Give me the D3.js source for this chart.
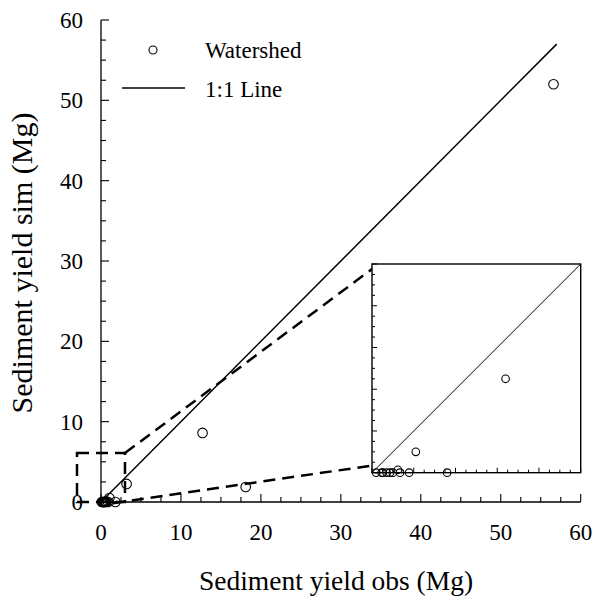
<!DOCTYPE html>
<html><head><meta charset="utf-8">
<script src="https://cdn.jsdelivr.net/npm/d3@7"></script>
<style>body{margin:0;background:#fff}svg{display:block}
svg text{font-family:"Liberation Serif","Noto Serif","Nimbus Roman","FreeSerif","DejaVu Serif",serif}</style>
</head><body>
<svg id="c" width="595" height="603"></svg>
<script>
// data
const obs = [56.6, 12.7, 18.1, 3.2, 1.05, 1.8, 0.10, 0.23, 0.26, 0.35, 0.43, 0.50, 0.62, 0.67, 0.89];
const sim = [52.0, 8.6, 1.87, 2.25, 0.50, 0.0, 0.0, 0.0, 0.0, 0.0, 0.0, 0.0, 0.07, 0.0, 0.0];
const oneToOne = [0, 57];
const mainTicks = [0, 10, 20, 30, 40, 50, 60];
const insetTicks = [0, 1, 2, 3, 4, 5];
const zoomBox = {x0: -3, x1: 3.0, y0: 0, y1: 6.1};
const connectors = [[[3.0, 6.1], [34.3, 29.3]], [[1.5, -0.15], [34.3, 4.6]]];
const legendLabels = ["Watershed", "1:1 Line"];
const xTitle = "Sediment yield obs (Mg)";
const yTitle = "Sediment yield sim (Mg)";

const svg = d3.select("#c");
const x = d3.scaleLinear().domain([0, 60]).range([101, 580.7]);
const y = d3.scaleLinear().domain([0, 60]).range([502, 20]);
const pts = obs.map((o, i) => [o, sim[i]]);

// axes
const minor = d3.range(0, 60.01, 2.5);
const gx = svg.append("g").attr("transform", "translate(0,502)");
gx.append("line").attr("x1", x(0)).attr("x2", x(60)).attr("stroke", "#000").attr("stroke-width", 1.3);
gx.selectAll("line.t").data(minor).join("line").attr("class", "t")
  .attr("x1", d => x(d)).attr("x2", d => x(d)).attr("y1", 0)
  .attr("y2", d => mainTicks.includes(d) ? -8 : -5).attr("stroke", "#000").attr("stroke-width", 1.1);
gx.selectAll("text").data(mainTicks).join("text").attr("x", d => x(d)).attr("y", 38)
  .attr("text-anchor", "middle").attr("font-size", 23).text(d => d);

const gy = svg.append("g").attr("transform", "translate(101,0)");
gy.append("line").attr("y1", y(0)).attr("y2", y(60)).attr("stroke", "#000").attr("stroke-width", 1.3);
gy.selectAll("line.t").data(minor).join("line").attr("class", "t")
  .attr("y1", d => y(d)).attr("y2", d => y(d)).attr("x1", 0)
  .attr("x2", d => mainTicks.includes(d) ? 8 : 5).attr("stroke", "#000").attr("stroke-width", 1.1);
gy.selectAll("text").data(mainTicks).join("text").attr("x", -18).attr("y", d => y(d) + 8)
  .attr("text-anchor", "end").attr("font-size", 23).text(d => d);

svg.append("text").attr("x", 336).attr("y", 590).attr("text-anchor", "middle").attr("font-size", 27.5).text(xTitle);
svg.append("text").attr("transform", "translate(32,263) rotate(-90)").attr("text-anchor", "middle").attr("font-size", 30).text(yTitle);

// 1:1 line
svg.append("line").attr("x1", x(oneToOne[0])).attr("y1", y(oneToOne[0]))
  .attr("x2", x(oneToOne[1])).attr("y2", y(oneToOne[1])).attr("stroke", "#000").attr("stroke-width", 1.5);

// dashed zoom box + connectors
svg.append("rect").attr("x", x(zoomBox.x0)).attr("y", y(zoomBox.y1))
  .attr("width", x(zoomBox.x1) - x(zoomBox.x0)).attr("height", y(zoomBox.y0) - y(zoomBox.y1))
  .attr("fill", "none").attr("stroke", "#000").attr("stroke-width", 2.5).attr("stroke-dasharray", "12,7");
svg.selectAll("line.conn").data(connectors).join("line").attr("class", "conn")
  .attr("x1", d => x(d[0][0])).attr("y1", d => y(d[0][1]))
  .attr("x2", d => x(d[1][0])).attr("y2", d => y(d[1][1]))
  .attr("stroke", "#000").attr("stroke-width", 2.5).attr("stroke-dasharray", "12,7");

// main points
svg.selectAll("circle.p").data(pts).join("circle").attr("class", "p")
  .attr("cx", d => x(d[0])).attr("cy", d => y(d[1])).attr("r", 4.8)
  .attr("fill", "none").attr("stroke", "#000").attr("stroke-width", 1.1);

// legend
svg.append("circle").attr("cx", 153).attr("cy", 50).attr("r", 4).attr("fill", "none").attr("stroke", "#000").attr("stroke-width", 1.1);
svg.append("line").attr("x1", 122).attr("x2", 185).attr("y1", 88).attr("y2", 88).attr("stroke", "#000").attr("stroke-width", 1.5);
svg.selectAll("text.leg").data(legendLabels).join("text").attr("class", "leg")
  .attr("x", 205).attr("y", (d, i) => 58 + i * 39).attr("font-size", 23).text(d => d);

// inset
const ix = d3.scaleLinear().domain([0, 5]).range([372, 580.7]);
const iy = d3.scaleLinear().domain([0, 5]).range([472.7, 264]);
const ins = svg.append("g");
ins.append("rect").attr("x", ix(0)).attr("y", iy(5)).attr("width", ix(5) - ix(0)).attr("height", iy(0) - iy(5))
  .attr("fill", "#fff").attr("stroke", "#000").attr("stroke-width", 1.4);
const iminor = d3.range(0, 5.001, 0.25);
ins.selectAll("line.ty").data(iminor).join("line").attr("class", "ty")
  .attr("x1", ix(0)).attr("x2", d => ix(0) + (insetTicks.includes(d) ? 5 : 3))
  .attr("y1", d => iy(d)).attr("y2", d => iy(d)).attr("stroke", "#000").attr("stroke-width", 1);
ins.selectAll("line.tx").data(iminor).join("line").attr("class", "tx")
  .attr("y1", iy(0)).attr("y2", d => iy(0) - (insetTicks.includes(d) ? 5 : 3))
  .attr("x1", d => ix(d)).attr("x2", d => ix(d)).attr("stroke", "#000").attr("stroke-width", 1);
ins.append("line").attr("x1", ix(0)).attr("y1", iy(0)).attr("x2", ix(5)).attr("y2", iy(5)).attr("stroke", "#000").attr("stroke-width", 1);
ins.selectAll("circle").data(pts.filter(d => d[0] <= 5 && d[1] <= 5)).join("circle")
  .attr("cx", d => ix(d[0])).attr("cy", d => iy(d[1])).attr("r", 3.8)
  .attr("fill", "none").attr("stroke", "#000").attr("stroke-width", 1.1);
</script>
</body></html>
